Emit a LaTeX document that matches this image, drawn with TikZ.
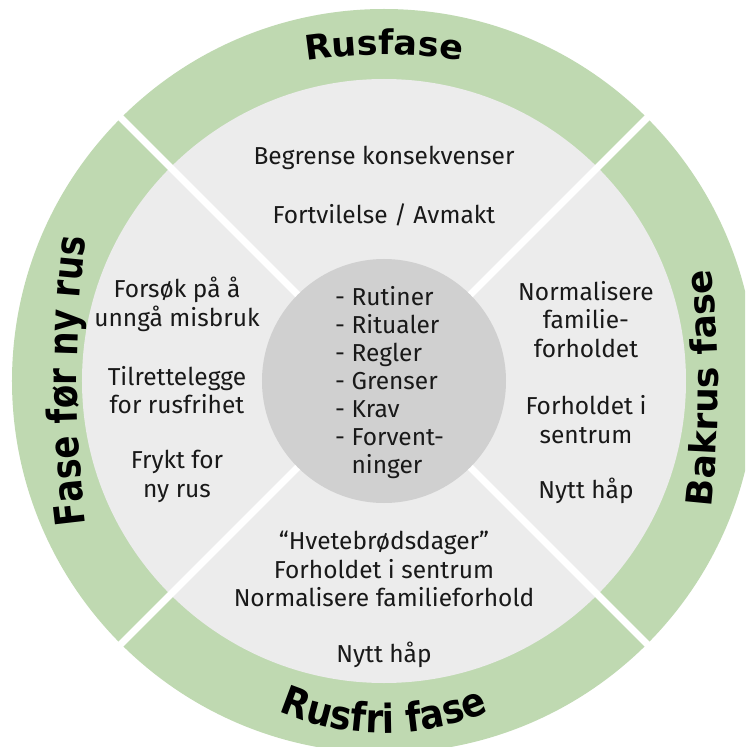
\documentclass[tikz,border=0pt]{standalone}
\usepackage{fontspec}
\usetikzlibrary{decorations.text}
\newfontfamily\bodyfont{Fira Sans}
\newfontfamily\lblA{DejaVu Sans}[FakeStretch=1.03]
\newfontfamily\lblB{DejaVu Sans}
\newfontfamily\lblC{DejaVu Sans}[FakeStretch=0.83]
\newfontfamily\lblD{DejaVu Sans}[FakeStretch=0.89]
\definecolor{ringgreen}{RGB}{191,217,177}
\definecolor{diskgray}{RGB}{236,236,236}
\definecolor{hubgray}{RGB}{208,208,208}
\definecolor{inkc}{RGB}{25,25,25}
\tikzset{
  body/.style={font=\bodyfont\fontsize{24.5}{28.5}\selectfont, text=inkc, align=center, inner sep=0pt},
  sep/.style={draw=white, line width=7pt},
  ringlabel/.style={decorate, decoration={text along path, text align=center, text={#1}}},
}
\begin{document}
\begin{tikzpicture}[x=1pt,y=1pt]
\useasboundingbox (-384,-366) rectangle (361,381);
\clip (-384,-366) rectangle (361,381);
\fill[ringgreen] (0,0) coordinate (c) circle (372);
\fill[diskgray] (c) circle (302);
\coordinate (e1) at (45:390);
\coordinate (e2) at (135:390);
\coordinate (e3) at (225:390);
\coordinate (e4) at (315:390);
\draw[sep] (e1) -- (e3);
\draw[sep] (e2) -- (e4);
\fill[hubgray] (c) circle (122);
% ring labels
\path[ringlabel={|\lblA\bfseries\fontsize{34}{34}\selectfont|Rusfase}]
  ([shift={(0,-181)}]102:507) arc (102:78:507);
\path[ringlabel={|\lblB\bfseries\fontsize{36}{36}\selectfont|Bakrus fase}]
  ([shift={(-766,-7)}]-7:1100) arc (-7:7:1100);
\path[ringlabel={|\lblC\bfseries\fontsize{41}{41}\selectfont|Fase før ny rus}]
  ([shift={(843,0)}]189:1150) arc (189:171:1150);
\path[ringlabel={|\lblD\bfseries\fontsize{40}{40}\selectfont|Rusfri fase}]
  ([shift={(0,-87)}]240:265) arc (240:300:265);
% top
\node[body] (t1) at (0,223) {Begrense konsekvenser};
\node[body] (t2) at (0,166) {Fortvilelse / Avmakt};
% left
\node[body] (l1) at (-207,76.5) {Forsøk på å\\unngå misbruk};
\node[body] (l2) at (-207,-9) {Tilrettelegge\\for rusfrihet};
\node[body] (l3) at (-207,-95.5) {Frykt for\\ny rus};
% right
\node[body] (r1) at (202,61.5) {Normalisere\\familie-\\forholdet};
\node[body] (r2) at (202,-38.5) {Forholdet i\\sentrum};
\node[body] (r3) at (202,-110) {Nytt håp};
% bottom
\node[body] (b1) at (0,-188) {“Hvetebrødsdager”\\Forholdet i sentrum\\Normalisere familieforhold};
\node[body] (b2) at (0,-274) {Nytt håp};
% hub
\node[body, align=left, anchor=west, font=\bodyfont\fontsize{24.5}{28}\selectfont] (h) at (-49,-2) {- Rutiner\\- Ritualer\\- Regler\\- Grenser\\- Krav\\- Forvent-\\\hphantom{- }ninger};
\end{tikzpicture}
\end{document}
